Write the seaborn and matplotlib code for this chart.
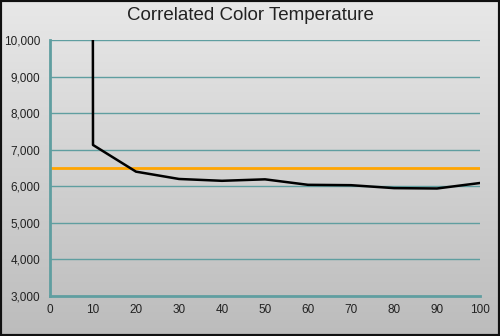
import numpy as np
import pandas as pd
import matplotlib
matplotlib.use("Agg")
import matplotlib.pyplot as plt
from matplotlib.patches import Rectangle
import seaborn as sns

# Measured correlated colour temperature per stimulus level
levels = [0, 10, 20, 30, 40, 50, 60, 70, 80, 90, 100]
cct = [1000000, 7130, 6400, 6200, 6150, 6190, 6040, 6030, 5950, 5940, 6090]
target_cct = 6500
x_ticks = list(range(0, 101, 10))
y_ticks = list(range(3000, 10001, 1000))

sns.set_theme(style="white")
plt.rcParams["font.family"] = ["Liberation Sans", "DejaVu Sans"]

grid_color = "#5f9ea0"
text_color = "#222222"

fig = plt.figure(figsize=(5.0, 3.36), dpi=100)

# Vertical grey gradient behind everything
bg = fig.add_axes([0, 0, 1, 1], zorder=0)
grad = np.linspace(0, 1, 256).reshape(-1, 1)
cmap = matplotlib.colors.LinearSegmentedColormap.from_list("bg", ["#e8e8e8", "#bcbcbc"])
bg.imshow(grad, aspect="auto", cmap=cmap, extent=[0, 1, 0, 1], origin="upper")
bg.set_axis_off()

ax = fig.add_axes([0.1, 0.119, 0.86, 0.762], zorder=1)
ax.set_facecolor("none")

df = pd.DataFrame({"level": levels, "cct": cct})
ax.axhline(target_cct, color="#ffa500", lw=2, zorder=3)
sns.lineplot(data=df, x="level", y="cct", ax=ax, color="black", lw=1.8, zorder=4)

ax.set_xlim(0, 100)
ax.set_ylim(3000, 10000)
ax.set_xticks(x_ticks)
ax.set_yticks(y_ticks)
ax.set_yticklabels([f"{v:,}" for v in y_ticks])
ax.set_xlabel("")
ax.set_ylabel("")

for yv in y_ticks[1:]:
    ax.axhline(yv, color=grid_color, lw=1, zorder=2)

for side in ("top", "right"):
    ax.spines[side].set_visible(False)
for side in ("left", "bottom"):
    ax.spines[side].set_color(grid_color)
    ax.spines[side].set_linewidth(2)
    ax.spines[side].set_zorder(5)

ax.tick_params(axis="both", which="major", direction="inout", length=6, width=2,
               color=grid_color, labelsize=8.5, labelcolor=text_color, pad=3)
ax.tick_params(axis="y", pad=4)

fig.text(0.5, 0.953, "Correlated Color Temperature", ha="center", va="center",
         fontsize=13.5, color=text_color)

# Dark frame around the whole figure
fig.patches.append(Rectangle((0, 0), 1, 1, transform=fig.transFigure, fill=False,
                             edgecolor="#111111", lw=3, zorder=10))

fig.savefig("out.png", dpi=100)
